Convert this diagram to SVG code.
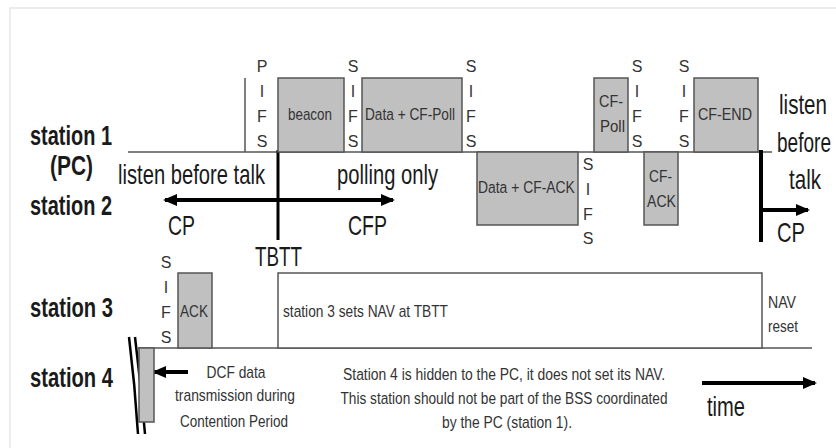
<svg xmlns="http://www.w3.org/2000/svg" width="836" height="448" viewBox="0 0 836 448">
<style>
text{font-family:"Liberation Sans",Arial,sans-serif;fill:#1a1a1a}
.st{font-size:27px;font-weight:bold}
.big{font-size:28px}
.sm{font-size:17px;fill:#333}
.ifs{font-size:16px;fill:#333;text-anchor:middle}
.mid{text-anchor:middle}
.box{fill:#c0c0c0;stroke:#555;stroke-width:1.5}
.wbox{fill:#fff;stroke:#555;stroke-width:1.5}
.base{stroke:#555;stroke-width:1.5;fill:none}
.thick{stroke:#000;stroke-width:4;fill:none}
</style>
<defs>
<marker id="ah" viewBox="0 0 14 14" refX="12" refY="7" markerWidth="14" markerHeight="14" markerUnits="userSpaceOnUse" orient="auto-start-reverse">
<path d="M0,1 L14,7 L0,13 z" fill="#000"/>
</marker>
</defs>
<rect width="836" height="448" fill="#fff"/>
<path d="M10,448 V8 H836" fill="none" stroke="#e6e6e6" stroke-width="1.5"/>

<g id="station-labels">
<text class="st" x="30" y="145" textLength="82" lengthAdjust="spacingAndGlyphs">station 1</text>
<text class="st" x="50" y="175" textLength="43" lengthAdjust="spacingAndGlyphs">(PC)</text>
<text class="st" x="30" y="215" textLength="82" lengthAdjust="spacingAndGlyphs">station 2</text>
<text class="st" x="30" y="317" textLength="83" lengthAdjust="spacingAndGlyphs">station 3</text>
<text class="st" x="30" y="387" textLength="83" lengthAdjust="spacingAndGlyphs">station 4</text>
</g>

<g id="connectors">
<line class="base" x1="128" y1="152" x2="772" y2="152"/>
<line class="base" x1="138" y1="348" x2="812" y2="348"/>
<line class="base" x1="245" y1="78" x2="245" y2="152"/>
<line stroke="#000" stroke-width="3" x1="278" y1="150" x2="278" y2="240"/>
<line class="thick" x1="165" y1="200" x2="393" y2="200" marker-start="url(#ah)" marker-end="url(#ah)"/>
<line class="thick" x1="761" y1="150" x2="761" y2="242"/>
<line class="thick" x1="761" y1="210" x2="808" y2="210" marker-end="url(#ah)"/>
<line class="thick" x1="702" y1="383" x2="815" y2="383" marker-end="url(#ah)"/>
<line class="thick" x1="188" y1="372" x2="154" y2="372" marker-end="url(#ah)"/>
<path d="M129,337 Q135,385 138,434" fill="none" stroke="#000" stroke-width="2.5"/>
<path d="M135,337 Q141,385 145,434" fill="none" stroke="#000" stroke-width="2.5"/>
</g>

<g id="pifs">
<text class="ifs" x="262" y="72">P</text><text class="ifs" x="262" y="97">I</text><text class="ifs" x="262" y="122">F</text><text class="ifs" x="262" y="147">S</text>
</g>
<g id="beacon">
<rect class="box" x="278" y="78" width="66" height="74"/>
<text class="sm" x="288" y="120" textLength="44" lengthAdjust="spacingAndGlyphs">beacon</text>
</g>
<g id="sifs1">
<text class="ifs" x="353" y="72">S</text><text class="ifs" x="353" y="97">I</text><text class="ifs" x="353" y="122">F</text><text class="ifs" x="353" y="147">S</text>
</g>
<g id="data-cf-poll">
<rect class="box" x="362" y="78" width="100" height="74"/>
<text class="sm" transform="translate(365,120) scale(0.8,1)" textLength="112.5" lengthAdjust="spacingAndGlyphs">Data + CF-Poll</text>
</g>
<g id="sifs2">
<text class="ifs" x="471" y="72">S</text><text class="ifs" x="471" y="97">I</text><text class="ifs" x="471" y="122">F</text><text class="ifs" x="471" y="147">S</text>
</g>
<g id="data-cf-ack">
<rect class="box" x="477" y="152" width="101" height="73"/>
<text class="sm" transform="translate(478,193) scale(0.8,1)" textLength="121" lengthAdjust="spacingAndGlyphs">Data + CF-ACK</text>
</g>
<g id="sifs3">
<text class="ifs" x="588" y="170">S</text><text class="ifs" x="588" y="195">I</text><text class="ifs" x="588" y="220">F</text><text class="ifs" x="588" y="244">S</text>
</g>
<g id="cf-poll">
<rect class="box" x="594" y="78" width="34" height="74"/>
<text class="sm" x="599" y="107" textLength="24" lengthAdjust="spacingAndGlyphs">CF-</text>
<text class="sm" x="600" y="132" textLength="25" lengthAdjust="spacingAndGlyphs">Poll</text>
</g>
<g id="sifs4">
<text class="ifs" x="637" y="72">S</text><text class="ifs" x="637" y="97">I</text><text class="ifs" x="637" y="122">F</text><text class="ifs" x="637" y="147">S</text>
</g>
<g id="cf-ack">
<rect class="box" x="644" y="152" width="34" height="73"/>
<text class="sm" x="649" y="182" textLength="23" lengthAdjust="spacingAndGlyphs">CF-</text>
<text class="sm" x="647" y="207" textLength="29" lengthAdjust="spacingAndGlyphs">ACK</text>
</g>
<g id="sifs5">
<text class="ifs" x="684" y="72">S</text><text class="ifs" x="684" y="97">I</text><text class="ifs" x="684" y="122">F</text><text class="ifs" x="684" y="147">S</text>
</g>
<g id="cf-end">
<rect class="box" x="694" y="78" width="64" height="74"/>
<text class="sm" x="698" y="120" textLength="54" lengthAdjust="spacingAndGlyphs">CF-END</text>
</g>

<g id="period-labels">
<text class="big" x="118" y="184" textLength="147" lengthAdjust="spacingAndGlyphs">listen before talk</text>
<text class="big" x="337" y="184" textLength="101" lengthAdjust="spacingAndGlyphs">polling only</text>
<text class="big" x="168" y="235" textLength="27" lengthAdjust="spacingAndGlyphs">CP</text>
<text class="big" x="348" y="235" textLength="39" lengthAdjust="spacingAndGlyphs">CFP</text>
<text class="big" x="255" y="266" textLength="47" lengthAdjust="spacingAndGlyphs">TBTT</text>
<text class="big" transform="translate(779,114) scale(0.734,1)">listen</text>
<text class="big" transform="translate(777,152) scale(0.68,1)">before</text>
<text class="big" transform="translate(789,189) scale(0.734,1)">talk</text>
<text class="big" x="777" y="242" textLength="28" lengthAdjust="spacingAndGlyphs">CP</text>
<text class="big" transform="translate(707,416) scale(0.72,1)" textLength="52.8" lengthAdjust="spacingAndGlyphs">time</text>
</g>

<g id="sifs6">
<text class="ifs" x="166" y="268">S</text><text class="ifs" x="166" y="293">I</text><text class="ifs" x="166" y="318">F</text><text class="ifs" x="166" y="343">S</text>
</g>
<g id="ack">
<rect class="box" x="178" y="273" width="34" height="75"/>
<text class="sm" x="180" y="317" textLength="28" lengthAdjust="spacingAndGlyphs">ACK</text>
</g>
<g id="nav">
<rect class="wbox" x="278" y="273" width="484" height="75"/>
<text class="sm" x="283" y="317" textLength="165" lengthAdjust="spacingAndGlyphs">station 3 sets NAV at TBTT</text>
</g>
<g id="nav-reset">
<text class="sm" x="768" y="308" font-size="15" textLength="28" lengthAdjust="spacingAndGlyphs">NAV</text>
<text class="sm" x="768" y="332" font-size="15" textLength="30" lengthAdjust="spacingAndGlyphs">reset</text>
</g>
<g id="dcf">
<rect class="box" x="139" y="348" width="15" height="74"/>
<text class="sm mid" x="236" y="378" textLength="59" lengthAdjust="spacingAndGlyphs">DCF data</text>
<text class="sm mid" x="235" y="401" textLength="120" lengthAdjust="spacingAndGlyphs">transmission during</text>
<text class="sm mid" x="234" y="427" textLength="108" lengthAdjust="spacingAndGlyphs">Contention Period</text>
</g>
<g id="note">
<text class="sm mid" transform="translate(504,380) scale(0.8,1)" textLength="402.5" lengthAdjust="spacingAndGlyphs">Station 4 is hidden to the PC, it does not set its NAV.</text>
<text class="sm mid" transform="translate(504,404) scale(0.8,1)" textLength="408.75" lengthAdjust="spacingAndGlyphs">This station should not be part of the BSS coordinated</text>
<text class="sm mid" x="507" y="428" textLength="130" lengthAdjust="spacingAndGlyphs">by the PC (station 1).</text>
</g>
</svg>
